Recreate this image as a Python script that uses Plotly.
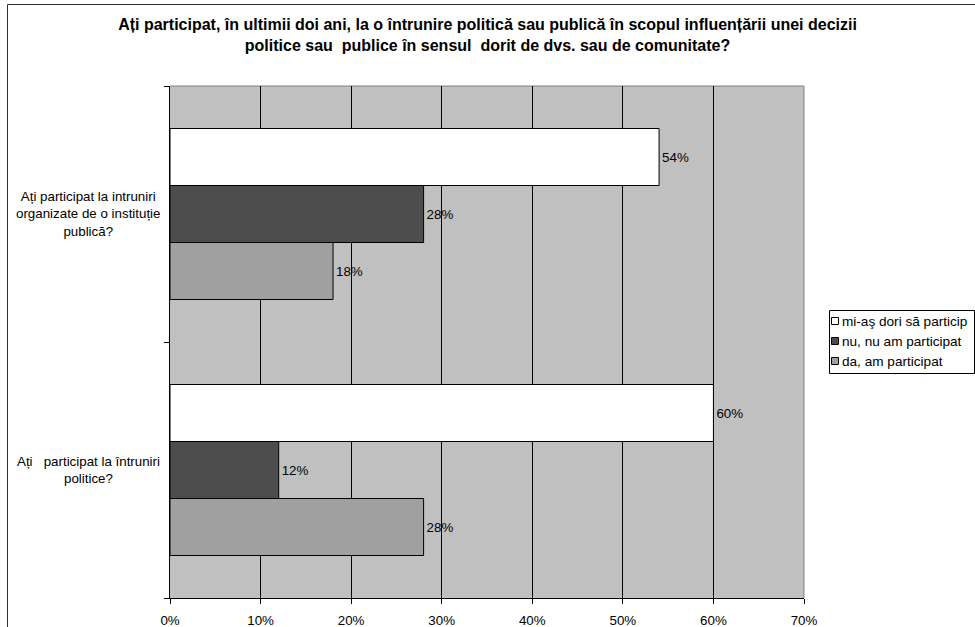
import plotly.graph_objects as go

# ---- data ----
categories = [
    "Ați   participat la întruniri politice?",
    "Ați participat la intruniri organizate de o instituție publică?",
]
category_labels = [
    "Ați   participat la întruniri<br>politice?",
    "Ați participat la intruniri<br>organizate de o instituție<br>publică?",
]
series_names = ["da, am participat", "nu, nu am participat", "mi-aş dori să particip"]
da_values = [28, 18]
nu_values = [12, 28]
doresc_values = [60, 54]
series_values = [da_values, nu_values, doresc_values]
series_colors = ["#a0a0a0", "#4d4d4d", "#ffffff"]
x_ticks = [0, 10, 20, 30, 40, 50, 60, 70]

title_text = ("Ați participat, în ultimii doi ani, la o întrunire politică sau publică în scopul influențării unei decizii"
              "<br>politice sau  publice în sensul  dorit de dvs. sau de comunitate?")

FONT = "Liberation Sans, Arial, sans-serif"
FS = 13.33

W, H = 975, 627
L, R, T, B = 170, 171, 86, 29
PW, PH = W - L - R, H - T - B


def px(xp):
    return (xp - L) / PW


def py(yp):
    return (H - B - yp) / PH


fig = go.Figure()
for name, vals, col in zip(series_names, series_values, series_colors):
    fig.add_trace(go.Bar(
        y=categories, x=vals, name=name, orientation="h",
        marker=dict(color=col, line=dict(color="black", width=1)),
        text=[f"{v}%" for v in vals], textposition="outside",
        textfont=dict(family=FONT, size=FS, color="black"),
        constraintext="none", cliponaxis=False, showlegend=False,
    ))

shapes = []
annotations = []

# plot-area top/right border (grey)
shapes.append(dict(type="line", xref="paper", yref="paper", x0=0, x1=1, y0=1, y1=1,
                   line=dict(color="#808080", width=1), layer="below"))
shapes.append(dict(type="line", xref="paper", yref="paper", x0=1, x1=1, y0=0, y1=1,
                   line=dict(color="#808080", width=1), layer="below"))

# outer chart border
shapes.append(dict(type="rect", xref="paper", yref="paper",
                   x0=px(7.5), x1=px(990), y0=py(640), y1=py(4.5),
                   line=dict(color="#303030", width=1), fillcolor="rgba(0,0,0,0)"))

# category labels (centered, like Excel)
for cat, lab in zip(categories, category_labels):
    annotations.append(dict(xref="paper", yref="y", x=px(88), y=cat, text=lab,
                            showarrow=False, xanchor="center", yanchor="middle", align="center",
                            font=dict(family=FONT, size=FS, color="black")))

# custom legend (top-to-bottom: reversed series order)
lx0, lx1, ly0, ly1 = 829, 974, 310, 373
shapes.append(dict(type="rect", xref="paper", yref="paper",
                   x0=px(lx0 + 0.5), x1=px(lx1 + 0.5), y0=py(ly1 + 0.5), y1=py(ly0 + 0.5),
                   line=dict(color="black", width=1), fillcolor="white"))
row_y = [321, 341, 361]
for i, (name, col) in enumerate(zip(series_names[::-1], series_colors[::-1])):
    yc = row_y[i]
    shapes.append(dict(type="rect", xref="paper", yref="paper",
                       x0=px(831.5), x1=px(838.5), y0=py(yc + 3.5), y1=py(yc - 3.5),
                       line=dict(color="black", width=1), fillcolor=col))
    annotations.append(dict(xref="paper", yref="paper", x=px(840), y=py(yc), text=name,
                            showarrow=False, xanchor="left", yanchor="middle",
                            font=dict(family=FONT, size=13.6, color="black")))

fig.update_layout(
    width=W, height=H,
    margin=dict(l=L, r=R, t=T, b=B, autoexpand=False),
    paper_bgcolor="white", plot_bgcolor="#c0c0c0",
    barmode="group", bargap=0.332, bargroupgap=0,
    title=dict(text=title_text, x=0.5, xref="container", xanchor="center",
               y=1 - 30 / H, yref="container", yanchor="top",
               font=dict(family=FONT, size=16, color="black", weight="bold")),
    showlegend=False,
    xaxis=dict(range=[0, 70], tickvals=x_ticks, ticktext=[f"{v}%" for v in x_ticks],
               showgrid=True, gridcolor="black", gridwidth=1,
               showline=True, linecolor="black", linewidth=1,
               ticks="outside", ticklen=5, tickcolor="black", tickwidth=1,
               ticklabelstandoff=5,
               tickfont=dict(family=FONT, size=FS, color="black"),
               zeroline=False, fixedrange=True),
    yaxis=dict(type="category", categoryorder="array", categoryarray=categories,
               range=[-0.5, 1.5], showticklabels=False, tickson="boundaries",
               ticks="outside", ticklen=5, tickcolor="black", tickwidth=1,
               showline=True, linecolor="black", linewidth=1,
               showgrid=False, zeroline=False, fixedrange=True),
    shapes=shapes, annotations=annotations,
)

fig.write_html("out.html")
